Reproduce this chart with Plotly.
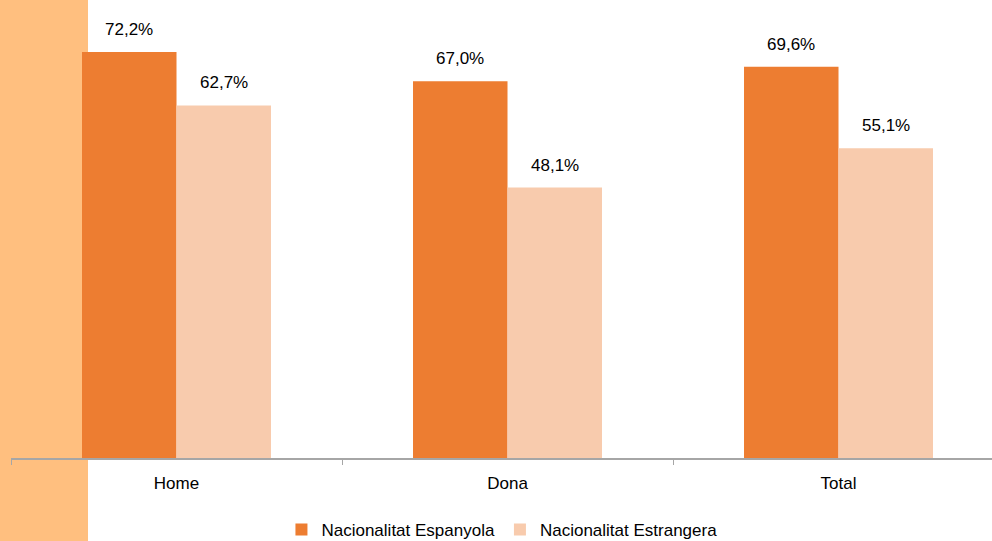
import plotly.graph_objects as go

categories = ["Home", "Dona", "Total"]
espanyola = [72.2, 67.0, 69.6]
estrangera = [62.7, 48.1, 55.1]
series_names = ["Nacionalitat Espanyola", "Nacionalitat Estrangera"]
colors = ["#ED7D31", "#F8CBAD"]

FONT = "Liberation Sans, Arial, sans-serif"

fig = go.Figure()
for name, vals, col in zip(series_names, [espanyola, estrangera], colors):
    fig.add_trace(go.Bar(x=categories, y=vals, name=name, marker_color=col,
                         marker_line_width=0))

bargap = 0.429
bw = (1 - bargap) / 2
annotations = []
for k, vals in enumerate([espanyola, estrangera]):
    off = (k - 0.5) * bw
    for i, v in enumerate(vals):
        annotations.append(dict(
            x=i + off, y=v, xref="x", yref="y",
            text=f"{v:.1f}".replace(".", ",") + "%",
            showarrow=False, yanchor="bottom", yshift=11,
            font=dict(family=FONT, size=17, color="#000000")))

fig.update_layout(
    width=992, height=541,
    margin=dict(l=11, r=0, t=0, b=83, autoexpand=False),
    barmode="group", bargap=bargap, bargroupgap=0,
    paper_bgcolor="#FFFFFF", plot_bgcolor="rgba(0,0,0,0)",
    font=dict(family=FONT, size=17, color="#000000"),
    showlegend=True,
    legend=dict(orientation="h", xref="container", yref="container",
                x=0.506, xanchor="center", y=(541 - 530) / 541, yanchor="middle",
                font=dict(family=FONT, size=17), traceorder="normal"),
    annotations=annotations,
    shapes=[dict(type="rect", xref="paper", yref="paper",
                 x0=-11 / 981, x1=77 / 981, y0=-83 / 458, y1=1.0,
                 fillcolor="#FFBF7F", line_width=0, layer="below")],
)
fig.update_xaxes(type="category", range=[-0.5, 2.4637], showline=True,
                 linecolor="#A6A6A6", linewidth=1.5, ticks="outside", ticklen=5,
                 tickcolor="#A6A6A6", tickson="boundaries", showgrid=False,
                 ticklabelstandoff=9,
                 tickfont=dict(family=FONT, size=17), zeroline=False)
fig.update_yaxes(range=[0, 81.45], visible=False, showgrid=False, zeroline=False)

fig.write_html("out.html", config={"displayModeBar": False},
               post_script="document.body.style.margin='0';")
